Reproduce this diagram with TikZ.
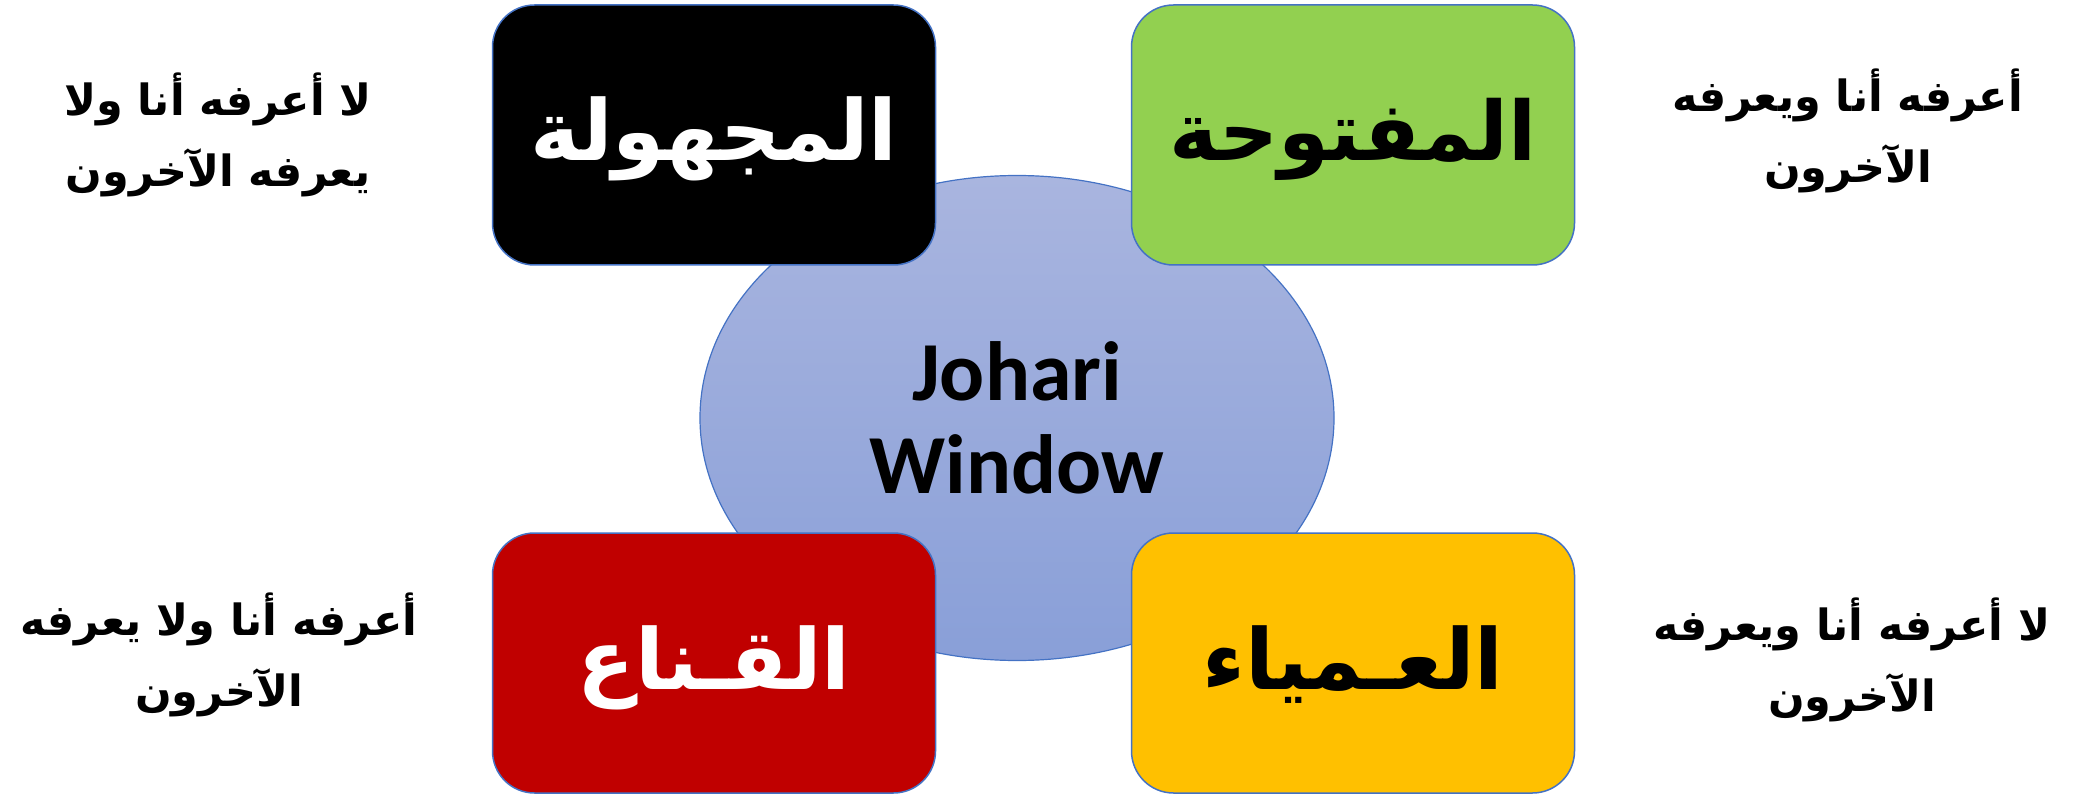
\documentclass[tikz,border=0pt]{standalone}
\usepackage{fontspec}
\usetikzlibrary{shapes.geometric}
\TeXXeTstate=1
\newfontfamily\arabicfont[Script=Arabic]{DejaVu Sans}
\newfontfamily\latinfont{Carlito}
\definecolor{edgeblue}{HTML}{4472C4}
\definecolor{discTop}{RGB}{169,181,223}
\definecolor{discBottom}{RGB}{137,159,216}
\definecolor{openGreen}{HTML}{92D050}
\definecolor{maskRed}{HTML}{C00000}
\definecolor{blindGold}{HTML}{FFC000}
\begin{document}
\begin{tikzpicture}[x=1pt,y=-1pt,
  quad/.style={rectangle, rounded corners=42pt, draw=edgeblue, line width=1.5pt,
    minimum width=443pt, minimum height=260pt, inner sep=0pt,
    text height=52pt, text depth=0pt,
    font=\arabicfont\bfseries\fontsize{84}{100}\selectfont},
  note/.style={align=center, inner sep=0pt,
    font=\arabicfont\bfseries\fontsize{43}{71}\selectfont}]
\useasboundingbox (0,0) rectangle (2085,794);

% central disc
\node[ellipse, minimum width=634pt, minimum height=485pt, inner sep=0pt,
  draw=edgeblue, line width=1.2pt, top color=discTop, bottom color=discBottom,
  align=center, font=\latinfont\bfseries\fontsize{84}{93}\selectfont]
  (core) at (1017,418) {Johari\\Window};

% the four panes
\node[quad, fill=black, text=white] (unknown) at (714,135)
  {\beginR المجهولة\endR};
\node[quad, fill=openGreen, text=black, font=\arabicfont\bfseries\fontsize{82}{100}\selectfont]
  (open) at (1353,135) {\beginR المفتوحة\endR};
\node[quad, fill=maskRed, text=white] (facade) at (714,663)
  {\beginR القـناع\endR};
\node[quad, fill=blindGold, text=black] (blind) at (1353,663)
  {\beginR العـمياء\endR};

% descriptions beside the panes
\node[note] (unknownNote) at (218,135)
  {\beginR لا أعرفه أنا ولا\endR\\\beginR يعرفه الآخرون\endR};
\node[note] (openNote) at (1848,131)
  {\beginR أعرفه أنا ويعرفه\endR\\\beginR الآخرون\endR};
\node[note] (facadeNote) at (219,655)
  {\beginR أعرفه أنا ولا يعرفه\endR\\\beginR الآخرون\endR};
\node[note] (blindNote) at (1852,660)
  {\beginR لا أعرفه أنا ويعرفه\endR\\\beginR الآخرون\endR};
\end{tikzpicture}
\end{document}
